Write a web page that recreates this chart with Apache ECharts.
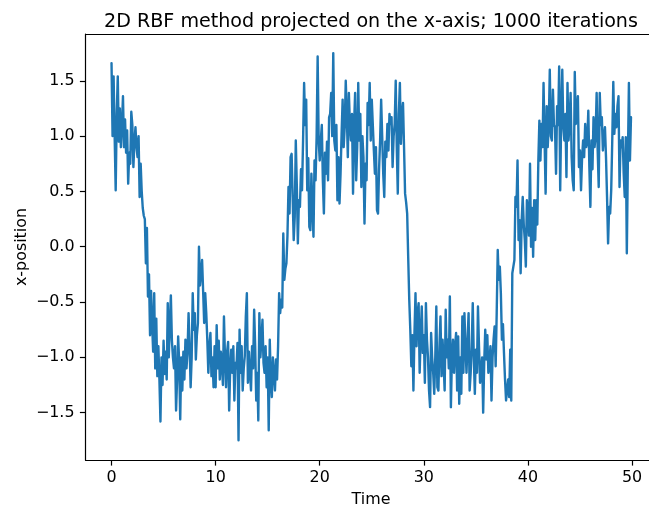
<!DOCTYPE html>
<html>
<head>
<meta charset="utf-8">
<script src="https://cdn.jsdelivr.net/npm/echarts@6/dist/echarts.min.js"></script>
<style>
html,body{margin:0;padding:0;background:#fff;}
#chart{width:649px;height:509px;}
</style>
</head>
<body>
<div id="chart"></div>
<script>
// ---- data ----
const titleText = '2D RBF method projected on the x-axis; 1000 iterations';
const xLabel = 'Time';
const yLabel = 'x-position';
const timeStep = 0.1; // sampling step of the series (s)
const xTicks = [0, 10, 20, 30, 40, 50];
const yTicks = [-1.5, -1.0, -0.5, 0.0, 0.5, 1.0, 1.5];
const xPosition = [
  1.66, 1.0, 1.54, 1.0, 0.51, 1.2, 1.54, 0.95, 1.25, 0.9,
  1.1, 1.36, 0.9, 1.15, 0.85, 1.05, 0.57, 0.85, 0.75, 1.22,
  1.1, 0.72, 0.95, 1.08, 0.9, 0.81, 1.0, 0.45, 0.75, 0.5,
  0.35, 0.28, 0.25, -0.15, 0.17, -0.45, -0.25, -0.8, -0.4, -0.7,
  -0.95, -0.42, -1.1, -0.65, -1.17, -0.9, -1.2, -1.58, -1.0, -1.25,
  -0.85, -1.15, -0.95, -1.2, -0.51, -1.0, -0.7, -0.44, -0.85, -1.0,
  -1.1, -0.9, -1.48, -1.2, -0.81, -1.05, -1.56, -1.0, -1.3, -0.95,
  -1.2, -0.84, -1.1, -0.95, -0.6, -0.9, -1.27, -1.0, -0.42, -0.75,
  -0.6, -1.02, -0.8, -0.69, 0.0, -0.35, -0.24, -0.12, -0.4, -0.69,
  -0.42, -0.6, -0.84, -1.14, -0.9, -0.78, -1.17, -1.0, -1.27, -0.9,
  -1.27, -0.71, -1.1, -0.85, -1.2, -0.95, -1.05, -1.25, -0.63, -1.0,
  -1.27, -0.95, -0.86, -1.48, -1.1, -0.93, -1.14, -0.9, -1.39, -1.05,
  -1.1, -0.87, -1.75, -0.75, -1.14, -0.9, -1.3, -1.1, -0.99, -0.63,
  -0.42, -1.23, -0.95, -1.14, -1.3, -0.9, -1.1, -0.57, -0.9, -1.39,
  -1.14, -1.57, -0.6, -1.0, -0.84, -0.66, -1.05, -1.14, -0.9, -1.27,
  -1.0, -1.66, -0.84, -1.2, -1.36, -1.0, -0.99, -1.3, -1.02, -1.2,
  -0.9, -0.42, -0.6, -0.48, -0.55, 0.12, -0.3, -0.2, -0.15, 0.1,
  0.54, 0.3, 0.81, 0.84, 0.45, 0.06, 0.27, 0.96, 0.55, 0.03,
  0.42, 0.36, 0.7, 0.51, 0.96, 1.48, 1.1, 1.33, 0.51, 0.8,
  0.18, 0.15, 0.66, 0.35, 0.09, 0.78, 0.6, 0.99, 1.72, 0.96,
  0.78, 0.96, 1.1, 0.6, 0.3, 0.85, 0.66, 0.95, 0.6, 1.17,
  1.2, 1.39, 1.0, 1.75, 0.96, 0.87, 1.1, 0.42, 0.81, 0.39,
  0.66, 1.02, 1.33, 0.9, 1.08, 1.5, 1.2, 0.81, 1.39, 1.1,
  0.96, 1.2, 0.48, 1.11, 1.39, 0.6, 0.9, 1.48, 0.96, 1.2,
  0.54, 1.0, 0.81, 0.21, 0.75, 0.6, 1.3, 1.1, 1.48, 0.96,
  1.33, 1.1, 0.87, 0.66, 0.9, 0.33, 0.3, 0.7, 0.96, 1.33,
  1.0, 0.66, 0.45, 0.95, 0.81, 1.11, 0.87, 1.2, 1.11, 1.17,
  0.72, 1.0, 1.11, 1.5, 0.9, 0.48, 1.2, 1.48, 0.93, 1.2,
  1.3, 0.9, 0.48, 0.4, 0.3, -0.1, -0.48, -0.75, -1.08, -0.8,
  -1.3, -0.78, -0.42, -0.9, -0.6, -0.51, -1.14, -0.8, -0.54, -0.96,
  -0.8, -1.23, -0.51, -0.84, -1.0, -1.3, -1.45, -0.78, -1.0, -1.14,
  -1.33, -1.0, -0.54, -1.27, -1.3, -0.9, -0.63, -1.17, -0.84, -1.05,
  -1.3, -0.57, -1.0, -0.84, -1.1, -0.45, -1.45, -0.99, -0.84, -1.14,
  -0.9, -0.78, -1.3, -0.81, -1.42, -1.0, -1.33, -0.63, -1.14, -0.6,
  -0.9, -1.14, -0.85, -0.6, -1.3, -1.14, -0.9, -0.51, -1.0, -1.33,
  -0.93, -1.14, -0.54, -0.9, -1.23, -1.11, -1.0, -1.5, -1.05, -0.75,
  -1.02, -0.8, -1.14, -1.05, -0.9, -1.39, -1.0, -0.84, -0.72, -1.08,
  -0.6, -0.03, -0.3, -0.18, -0.42, -0.84, -0.7, -0.96, -1.2, -1.39,
  -1.39, -1.2, -1.36, -0.93, -1.39, -0.24, -0.18, -0.12, 0.45, 0.36,
  0.78, 0.06, 0.24, -0.24, 0.24, 0.45, 0.2, 0.06, -0.18, 0.42,
  0.3, 0.1, 0.75, 0.0, 0.35, -0.09, 0.42, 0.06, 0.42, 0.2,
  0.78, 1.14, 0.78, 1.11, 0.9, 1.48, 0.96, 0.48, 1.27, 0.9,
  1.1, 1.6, 1.0, 0.96, 1.42, 1.1, 1.08, 0.66, 1.27, 1.1,
  1.63, 0.51, 1.2, 1.6, 1.08, 0.96, 1.2, 0.63, 1.48, 0.96,
  1.11, 1.39, 0.81, 0.6, 0.51, 1.58, 1.11, 1.2, 1.36, 0.72,
  0.87, 0.51, 0.8, 0.96, 0.81, 1.11, 0.9, 0.96, 1.23, 0.72,
  0.36, 0.96, 0.7, 1.17, 0.9, 1.0, 1.39, 0.87, 0.54, 1.39,
  1.1, 1.17, 0.87, 1.0, 1.08, 0.81, 0.45, 0.03, 0.36, 0.3,
  0.51, 0.96, 1.49, 1.02, 1.2, 1.08, 1.27, 1.36, 0.54, 0.96,
  0.9, 0.99, 0.66, 0.45, 0.99, -0.06, 0.78, 1.48, 0.78, 1.17
];
const time = xPosition.map((_, i) => +(i * timeStep).toFixed(2));

// ---- chart ----
const FONT = 'DejaVu Sans, sans-serif';
const fmt = v => (Math.round(v * 10) / 10).toFixed(1).replace('-', '\u2212');
const chart = echarts.init(document.getElementById('chart'), null, {renderer: 'canvas'});
const seriesData = time.map((t, i) => [t, xPosition[i]]);

const axisLineStyle = {color: '#000', width: 1.2};

chart.setOption({
  animation: false,
  backgroundColor: '#ffffff',
  grid: {
    left: 85.5, top: 34, width: 563.5, height: 426,
    show: false
  },
  xAxis: {
    type: 'value', min: -2.5, max: 51.63, position: 'bottom',
    axisLine: {show: true, onZero: false, lineStyle: axisLineStyle},
    axisTick: {show: true, inside: false, length: 5.6, lineStyle: axisLineStyle, customValues: xTicks},
    axisLabel: {show: true, margin: 10, fontFamily: FONT, fontSize: 15.9, color: '#000',
      customValues: xTicks, formatter: v => String(v)},
    splitLine: {show: false}
  },
  yAxis: {
    type: 'value', min: -1.928, max: 1.923,
    axisLine: {show: true, onZero: false, lineStyle: axisLineStyle},
    axisTick: {show: true, inside: false, length: 5.6, lineStyle: axisLineStyle, customValues: yTicks},
    axisLabel: {show: true, margin: 11, fontFamily: FONT, fontSize: 15.9, color: '#000',
      customValues: yTicks, formatter: v => fmt(v)},
    splitLine: {show: false}
  },
  graphic: [
    {type: 'line', id: 'topSpine', silent: true,
      shape: {x1: 85.5, y1: 34.5, x2: 649, y2: 34.5}, style: {stroke: '#000', lineWidth: 1.2}},
    {type: 'text', id: 'title', x: 371, y: 22, silent: true,
      style: {text: titleText, fontSize: 19.1, fontFamily: FONT, fill: '#000', align: 'center', verticalAlign: 'middle'}},
    {type: 'text', id: 'xname', x: 371, y: 500, silent: true,
      style: {text: xLabel, fontSize: 15.9, fontFamily: FONT, fill: '#000', align: 'center', verticalAlign: 'middle'}},
    {type: 'text', id: 'yname', x: 22, y: 247, rotation: Math.PI / 2, silent: true,
      style: {text: yLabel, fontSize: 15.9, fontFamily: FONT, fill: '#000', align: 'center', verticalAlign: 'middle'}}
  ],
  series: [{
    type: 'line',
    data: seriesData,
    showSymbol: false,
    symbol: 'none',
    sampling: null,
    lineStyle: {color: '#1f77b4', width: 2.4, join: 'round', cap: 'round'},
    clip: true
  }]
});
</script>
</body>
</html>
